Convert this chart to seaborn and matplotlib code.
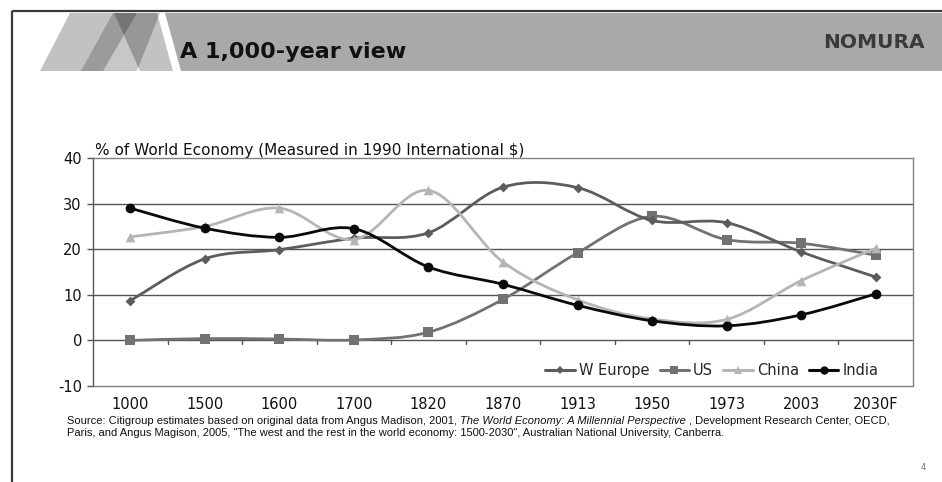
import numpy as np
import pandas as pd
import matplotlib
matplotlib.use("Agg")
import matplotlib.pyplot as plt
import seaborn as sns
from matplotlib.path import Path
from matplotlib.patches import PathPatch, Polygon
from matplotlib.lines import Line2D

# ---------------- data ----------------
categories = ['1000', '1500', '1600', '1700', '1820', '1870', '1913', '1950', '1973', '2003', '2030F']
w_europe = [8.7, 17.9, 19.9, 22.4, 23.6, 33.6, 33.5, 26.3, 25.8, 19.4, 13.9]
us = [0.0, 0.4, 0.3, 0.1, 1.8, 9.0, 19.2, 27.2, 22.1, 21.3, 18.7]
china = [22.7, 25.0, 29.0, 22.1, 32.9, 17.2, 8.9, 4.7, 4.6, 13.1, 20.2]
india = [29.0, 24.6, 22.6, 24.5, 16.1, 12.3, 7.7, 4.3, 3.2, 5.6, 10.2]
series_names = ['W Europe', 'US', 'China', 'India']
y_ticks = [-10, 0, 10, 20, 30, 40]

title = 'A 1,000-year view'
brand = 'NOMURA'
y_title = '% of World Economy (Measured in 1990 International $)'
page_no = '4'

colors = {'W Europe': '#5c5c5c', 'US': '#727272', 'China': '#b5b5b5', 'India': '#0a0a0a'}
markers = {'W Europe': 'D', 'US': 's', 'China': '^', 'India': 'o'}
msize = {'W Europe': 5, 'US': 7, 'China': 7, 'India': 7}

values = {'W Europe': w_europe, 'US': us, 'China': china, 'India': india}
rows = []
for name in series_names:
    for i, (c, v) in enumerate(zip(categories, values[name])):
        rows.append({'series': name, 'pos': i, 'year': c, 'share': v})
df = pd.DataFrame(rows)

# ---------------- figure ----------------
sns.set_theme(style='white')
plt.rcParams['font.family'] = ['DejaVu Sans']
plt.rcParams['axes.unicode_minus'] = False
W, H = 942, 482
fig = plt.figure(figsize=(W / 100, H / 100), dpi=100)
fig.patch.set_facecolor('white')

# slide background layer (pixel coordinates, y downward)
bg = fig.add_axes([0, 0, 1, 1], zorder=0)
bg.set_xlim(0, W)
bg.set_ylim(H, 0)
bg.axis('off')

# header band
bg.add_patch(Polygon([(165, 13), (W, 13), (W, 71), (181, 71)], closed=True,
                     facecolor='#a9a9a9', edgecolor='none'))
# logo stripes (translucent overlaps)
stripes = [
    ([(40, 71), (103, 71), (137, 13), (70, 13)], 0.24),
    ([(81, 71), (103, 71), (137, 13), (113, 13)], 0.20),
    ([(103, 71), (137, 71), (160, 13), (137, 13)], 0.22),
    ([(114, 13), (157, 13), (173, 71), (140, 71)], 0.24),
]
for pts, a in stripes:
    bg.add_patch(Polygon(pts, closed=True, facecolor='black', alpha=a,
                         edgecolor='none'))
# slide frame
bg.plot([12, W], [11, 11], color='#3a3a3a', lw=1.6, solid_capstyle='butt')
bg.plot([12, 12], [11, H], color='#3a3a3a', lw=1.6, solid_capstyle='butt')

bg.text(180, 52, title, fontsize=16, fontweight='bold', color='#111111',
        ha='left', va='center')
bg.text(925, 42, brand, fontsize=14.5, fontweight='bold', color='#3a3a3a',
        ha='right', va='center')
bg.text(95, 150, y_title, fontsize=11, color='#111111', ha='left', va='center')
bg.text(923, 467, page_no, fontsize=6, color='#777777', ha='center', va='center')

# source note (mixed roman / italic)
src_parts_1 = [
    ('Source: Citigroup estimates based on original data from Angus Madison, 2001, ', 'normal'),
    ('The World Economy: A Millennial Perspective', 'italic'),
    (', Development Research Center, OECD,', 'normal'),
]
src_line_2 = ('Paris, and Angus Magison, 2005, "The west and the rest in the world economy: '
              '1500-2030", Australian National University, Canberra.')
src_font = ['Liberation Sans', 'DejaVu Sans']
src_size = 8.0
fig.canvas.draw()
renderer = fig.canvas.get_renderer()
x_cursor = 67
for txt, sty in src_parts_1:
    t = bg.text(x_cursor, 421, txt, fontsize=src_size, family=src_font, style=sty,
                color='#111111', ha='left', va='center')
    bb = t.get_window_extent(renderer=renderer)
    x_cursor += bb.width + (3 if sty == 'italic' else 0)
bg.text(67, 433, src_line_2, fontsize=src_size, family=src_font, color='#111111',
        ha='left', va='center')

# ---------------- chart ----------------
ax = fig.add_axes([93 / W, (H - 386) / H, 820 / W, 228 / H], zorder=2)
ax.set_facecolor('none')
n = len(categories)
ax.set_xlim(-0.5, n - 0.5)
ax.set_ylim(min(y_ticks), max(y_ticks))

for yv in y_ticks[1:-1]:
    ax.axhline(yv, color='#555555', lw=1.0, zorder=1)
# category tick marks on the zero line
for k in range(1, n):
    ax.plot([k - 0.5, k - 0.5], [0, -0.8], color='#555555', lw=1.0, zorder=1)


def smooth_path(xs, ys):
    pts = np.column_stack([xs, ys]).astype(float)
    m = len(pts)
    verts = [pts[0]]
    codes = [Path.MOVETO]
    for i in range(m - 1):
        p0 = pts[i - 1] if i > 0 else pts[i]
        p1 = pts[i]
        p2 = pts[i + 1]
        p3 = pts[i + 2] if i + 2 < m else pts[i + 1]
        c1 = p1 + (p2 - p0) / 6.0
        c2 = p2 - (p3 - p1) / 6.0
        verts += [c1, c2, p2]
        codes += [Path.CURVE4] * 3
    return Path(verts, codes)


order = ['US', 'W Europe', 'China', 'India']
for z, name in enumerate(order):
    sub = df[df['series'] == name]
    ax.add_patch(PathPatch(smooth_path(sub['pos'].values, sub['share'].values),
                           facecolor='none', edgecolor=colors[name], lw=2.0,
                           zorder=3 + z, capstyle='round', joinstyle='round'))
    sns.scatterplot(data=sub, x='pos', y='share', marker=markers[name],
                    color=colors[name], s=msize[name] ** 2, linewidth=0,
                    ax=ax, zorder=3.5 + z, legend=False)

ax.set_xlabel('')
ax.set_ylabel('')
ax.set_xticks(range(n))
ax.set_xticklabels(categories)
ax.set_yticks(y_ticks)
ax.tick_params(axis='x', length=0, pad=8, labelsize=10.5, labelcolor='#111111')
ax.tick_params(axis='y', left=True, length=4, width=1, color='#555555', pad=4,
               labelsize=10.5, labelcolor='#111111')
for side in ['left', 'right', 'top', 'bottom']:
    ax.spines[side].set_visible(True)
    ax.spines[side].set_color('#808080')
    ax.spines[side].set_linewidth(1.0)
ax.spines['left'].set_color('#555555')

handles = [Line2D([], [], color=colors[nm], lw=2.2, marker=markers[nm],
                  markersize=msize[nm] - 1, markeredgewidth=0) for nm in series_names]
leg = ax.legend(handles, series_names, loc='center', bbox_to_anchor=(0.755, 0.066),
                ncol=4, frameon=False, fontsize=10.5, handlelength=2.0,
                handletextpad=0.3, columnspacing=0.7, borderaxespad=0)

fig.savefig('out.png', dpi=100, facecolor='white')
